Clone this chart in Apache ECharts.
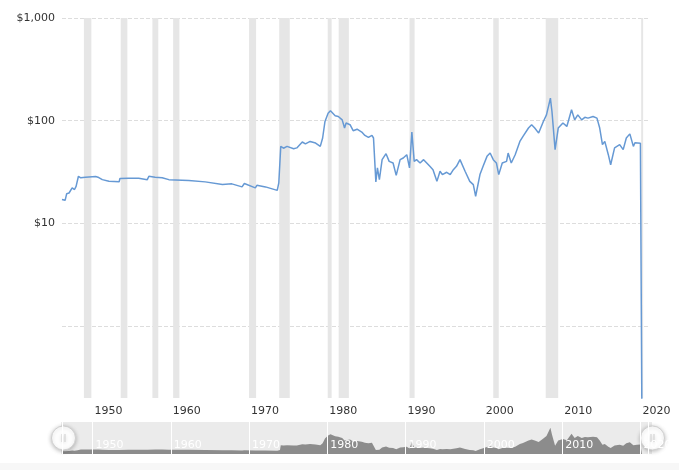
<!DOCTYPE html>
<html>
<head>
<meta charset="utf-8">
<script src="https://cdn.jsdelivr.net/npm/echarts@6/dist/echarts.min.js"></script>
<style>
  html, body { margin: 0; padding: 0; background: #fff; }
  #chart { width: 679px; height: 470px; }
</style>
</head>
<body>
<div id="chart"></div>
<script>
// decimal years and inflation-adjusted price per barrel
var years = [
  1946.1, 1946.35, 1946.5, 1946.7, 1947.0, 1947.2, 1947.4, 1947.7, 1947.9, 1948.1,
  1948.2, 1948.5, 1949.1, 1950.4, 1950.8, 1951.25, 1952.1, 1953.4, 1953.5, 1954.6,
  1955.9, 1957.0, 1957.2, 1958.0, 1958.9, 1959.75, 1962.3, 1964.4, 1966.6, 1967.8,
  1969.1, 1969.4, 1970.8, 1971.0, 1972.1, 1973.6, 1973.8, 1973.95, 1974.05, 1974.4,
  1974.85, 1975.7, 1976.1, 1976.8, 1977.2, 1977.8, 1978.5, 1979.1, 1979.4, 1979.7,
  1980.1, 1980.4, 1980.6, 1981.0, 1981.4, 1981.9, 1982.2, 1982.4, 1982.9, 1983.3,
  1983.8, 1984.4, 1984.8, 1985.25, 1985.7, 1985.9, 1986.2, 1986.4, 1986.65, 1987.0,
  1987.5, 1987.9, 1988.4, 1988.8, 1989.3, 1989.7, 1990.15, 1990.5, 1990.8, 1991.1,
  1991.4, 1991.85, 1992.3, 1992.7, 1993.1, 1993.5, 1994.0, 1994.4, 1994.7, 1995.25,
  1995.7, 1996.1, 1996.5, 1996.95, 1997.6, 1998.2, 1998.65, 1998.95, 1999.5, 1999.9,
  2000.4, 2000.8, 2001.2, 2001.6, 2001.9, 2002.35, 2002.9, 2003.1, 2003.5, 2004.0,
  2004.6, 2005.0, 2005.7, 2006.1, 2006.5, 2007.0, 2007.6, 2008.0, 2008.5, 2008.7,
  2009.1, 2009.5, 2010.1, 2010.6, 2011.2, 2011.6, 2012.0, 2012.5, 2012.9, 2013.3,
  2013.95, 2014.45, 2014.8, 2015.15, 2015.45, 2015.9, 2016.2, 2016.7, 2017.35, 2017.8,
  2018.2, 2018.65, 2019.1, 2019.3, 2019.55, 2020.0, 2020.2
];
var prices = [
  17.1, 17.7, 16.8, 19.5, 19.8, 20.6, 22.2, 21.4, 23.0, 23.5,
  28.8, 27.8, 28.2, 28.6, 28.0, 26.7, 25.7, 25.4, 27.4, 27.5,
  27.5, 26.7, 28.8, 28.2, 27.8, 26.7, 26.2, 25.4, 24.0, 24.3,
  22.7, 24.5, 22.2, 23.5, 22.7, 21.0, 24.8, 24.6, 56.3, 54.0,
  56.3, 53.4, 54.4, 62.1, 59.5, 62.9, 60.6, 56.3, 67.9, 98.4,
  118, 125, 122, 112, 110, 102, 84.9, 95, 91.5, 80.0,
  82.7, 77.6, 71.9, 68.8, 71.9, 67.9, 25.4, 34.7, 26.7, 41.8,
  47.8, 40.2, 38.8, 29.4, 41.8, 43.4, 46.7, 34.7, 77.6, 40.2,
  41.8, 38.8, 41.8, 38.8, 36.0, 33.4, 25.7, 32.2, 29.9, 31.5,
  29.9, 33.4, 36.0, 41.8, 32.2, 25.7, 23.9, 18.4, 29.9, 36.0,
  45.0, 48.5, 41.8, 38.8, 29.9, 38.8, 40.2, 48.5, 38.8, 46.7,
  62.9, 70.4, 84.9, 91.5, 84.9, 75.8, 98.4, 114, 166, 123,
  52.3, 84.9, 95, 88.0, 128, 102, 114, 102, 108, 106,
  110, 106, 84.9, 58.5, 62.9, 46.7, 37.3, 54.4, 58.5, 52.3,
  67.9, 74.5, 56.3, 61, 58.5, 60.5, 0.1
];
// recession periods (shaded bands)
var recessions = [
  [1948.9, 1949.85], [1953.6, 1954.45], [1957.65, 1958.4], [1960.3, 1961.1],
  [1970.0, 1970.9], [1973.85, 1975.2], [1980.05, 1980.55], [1981.45, 1982.75],
  [1990.5, 1991.15], [2001.2, 2001.9], [2007.9, 2009.5], [2020.1, 2020.35]
];
var xMin = 1946.1, xMax = 2020.97;

var chart = echarts.init(document.getElementById('chart'));
var points = years.map(function (y, i) { return [y, prices[i]]; });

var decadeLabel = function (v) {
  return Math.abs(v % 10) < 1e-6 ? String(Math.round(v)) : '';
};

var option = {
  animation: false,
  backgroundColor: '#fff',
  textStyle: { fontFamily: 'DejaVu Sans' },
  graphic: [
    { type: 'rect', z: -1, shape: { x: 61, y: 422, width: 591, height: 32 }, style: { fill: '#ebebeb' } },
    { type: 'rect', z: -1, shape: { x: 0, y: 463, width: 679, height: 7 }, style: { fill: '#f7f7f7' } }
  ],
  grid: [
    { left: 62, right: 31, top: 18, bottom: 72 },
    { left: 62, right: 31, top: 422, height: 32 }
  ],
  xAxis: [{
    type: 'value', min: xMin, max: xMax, splitNumber: 7,
    axisLine: { show: false }, axisTick: { show: false }, splitLine: { show: false },
    axisLabel: { formatter: decadeLabel, align: 'left', padding: [0, 0, 0, 2], margin: 8, color: '#333', fontSize: 11 }
  }, {
    gridIndex: 1, type: 'value', min: xMin, max: xMax, splitNumber: 7, z: 5,
    axisLine: { show: false }, axisTick: { show: false },
    splitLine: { show: true, lineStyle: { color: '#fff', width: 1 } },
    axisLabel: { inside: true, formatter: decadeLabel, align: 'left', padding: [0, 0, 0, 3], margin: 3, color: '#fff', fontSize: 11 }
  }],
  yAxis: [{
    type: 'log', logBase: 10, min: 0.2, max: 1000,
    axisLine: { show: false }, axisTick: { show: false },
    splitLine: { show: true, showMinLine: false, lineStyle: { color: '#ddd', type: 'dashed' } },
    axisLabel: {
      color: '#333', fontSize: 11, margin: 7,
      formatter: function (v) { return v >= 10 ? '$' + Math.round(v).toLocaleString('en-US') : ''; }
    }
  }, {
    gridIndex: 1, type: 'value', min: 0, max: 203, show: false
  }],
  dataZoom: [{
    type: 'slider', xAxisIndex: 0, start: 0, end: 100,
    left: 61, right: 27, top: 422, height: 32,
    showDataShadow: false, showDetail: false, brushSelect: false, moveHandleSize: 0,
    backgroundColor: 'rgba(0,0,0,0)', fillerColor: 'rgba(0,0,0,0)', borderColor: 'rgba(0,0,0,0)',
    handleIcon: 'path://M0,-12A12,12,0,1,1,0,12A12,12,0,1,1,0,-12Z M-1.5,-4L-1.5,4 M1.5,-4L1.5,4',
    handleSize: '75%',
    handleStyle: { color: '#fff', borderColor: '#cfcfcf', borderWidth: 1, shadowBlur: 4, shadowColor: 'rgba(0,0,0,0.25)', shadowOffsetY: 1 }
  }],
  series: [{
    type: 'line', data: [], xAxisIndex: 0, yAxisIndex: 0, z: 1, silent: true,
    markArea: {
      silent: true,
      itemStyle: { color: '#e6e6e6' },
      data: recessions.map(function (r) { return [{ xAxis: r[0] }, { xAxis: r[1] }]; })
    }
  }, {
    type: 'line', data: points, xAxisIndex: 0, yAxisIndex: 0, z: 3,
    symbol: 'none', clip: true,
    lineStyle: { color: '#6699d4', width: 1.5 }
  }, {
    type: 'line', data: points, xAxisIndex: 1, yAxisIndex: 1, z: 2,
    symbol: 'none', silent: true,
    lineStyle: { width: 0 },
    areaStyle: { color: '#8c8c8c', opacity: 1 }
  }]
};
chart.setOption(option);
</script>
</body>
</html>
